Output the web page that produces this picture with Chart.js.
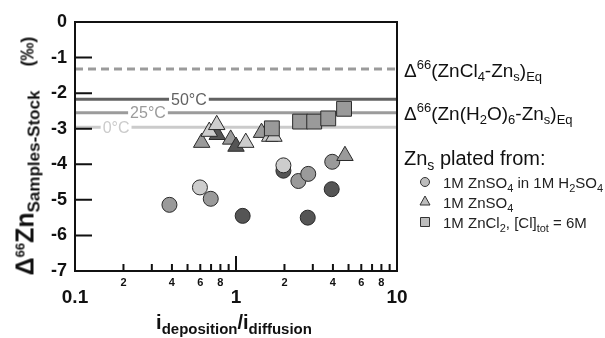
<!DOCTYPE html>
<html>
<head>
<meta charset="utf-8">
<script src="https://cdn.jsdelivr.net/npm/chart.js"></script>
<style>
  body { margin: 0; background: #fff; }
  #wrap { position: relative; width: 605px; height: 338px; font-family: "Liberation Sans", Arial, sans-serif; color: #111; }
  .lbl { position: absolute; white-space: nowrap; line-height: 1; }
  .lbl sub, .lbl sup { line-height: 0; }
  #ytitle { left: 25px; top: 156px; transform: translate(-50%, -50%) rotate(-90deg); font-weight: bold; font-size: 25px; }
  #xtitle { left: 234px; top: 322px; transform: translate(-50%, -50%); font-weight: bold; font-size: 20px; }
  .eq { left: 404px; font-size: 19px; transform: translateY(-50%); }
  .leg { left: 443px; font-size: 15px; transform: translateY(-50%); color: #222; }
</style>
</head>
<body>
<div id="wrap">
  <canvas id="myChart" width="605" height="338"></canvas>
  <div class="lbl" id="ytitle">&Delta;<sup style="font-size:13px">66</sup>Zn<sub style="font-size:17px">Samples-Stock</sub><span style="font-size:18px;margin-left:24px">(&permil;)</span></div>
  <div class="lbl" id="xtitle">i<sub style="font-size:15px">deposition</sub>/i<sub style="font-size:15px">diffusion</sub></div>
  <div class="lbl eq" style="top:70px">&Delta;<sup style="font-size:13px">66</sup>(ZnCl<sub style="font-size:13px">4</sub>-Zn<sub style="font-size:13px">s</sub>)<sub style="font-size:13px">Eq</sub></div>
  <div class="lbl eq" style="top:113px">&Delta;<sup style="font-size:13px">66</sup>(Zn(H<sub style="font-size:13px">2</sub>O)<sub style="font-size:13px">6</sub>-Zn<sub style="font-size:13px">s</sub>)<sub style="font-size:13px">Eq</sub></div>
  <div class="lbl eq" style="top:158px;font-size:20px">Zn<sub style="font-size:14px">s</sub> plated from:</div>
  <div class="lbl leg" style="top:182px">1M ZnSO<sub style="font-size:11px">4</sub> in 1M H<sub style="font-size:11px">2</sub>SO<sub style="font-size:11px">4</sub></div>
  <div class="lbl leg" style="top:202px">1M ZnSO<sub style="font-size:11px">4</sub></div>
  <div class="lbl leg" style="top:222px">1M ZnCl<sub style="font-size:11px">2</sub>, [Cl]<sub style="font-size:11px">tot</sub> = 6M</div>
</div>

<script>
// plating temperature sets the grey shade of each sample
var circleX = [0.386, 0.597, 0.697, 1.10, 1.97, 1.97, 2.44, 2.81, 2.79, 3.96, 3.93];
var circleY = [-5.14, -4.65, -4.97, -5.45, -4.18, -4.03, -4.47, -4.27, -5.50, -3.93, -4.70];
var circleT = [25, 0, 25, 50, 50, 0, 25, 25, 50, 25, 50];

var triX = [0.612, 0.765, 0.682, 0.759, 0.927, 1.00, 1.15, 1.44, 1.62, 1.72, 4.75];
var triY = [-3.39, -3.17, -3.08, -2.89, -3.30, -3.50, -3.39, -3.11, -3.22, -3.22, -3.76];
var triT = [25, 50, 0, 0, 25, 50, 0, 25, 0, 0, 25];

var sqX = [1.67, 2.50, 3.06, 3.74, 4.69];
var sqY = [-2.99, -2.80, -2.80, -2.71, -2.44];
var sqT = [25, 25, 25, 25, 25];

// equilibrium reference lines
var eqNames = ['ZnCl4', '50°C', '25°C', '0°C'];
var eqY = [-1.32, -2.17, -2.55, -2.96];

var xMajorTicks = [0.1, 1, 10];
var xMajorLabels = ['0.1', '1', '10'];
var xMinorTicks = [0.2, 0.3, 0.4, 0.5, 0.6, 0.7, 0.8, 0.9, 2, 3, 4, 5, 6, 7, 8, 9];
var xMinorLabelled = [0.2, 0.4, 0.6, 0.8, 2, 4, 6, 8];
var xMinorLabels = ['2', '4', '6', '8', '2', '4', '6', '8'];
var yTicks = [-1, -2, -3, -4, -5, -6];

var shade = { 0: '#cdcdcd', 25: '#9a9a9a', 50: '#555555' };
var lineColor = ['#9b9b9b', '#626262', '#9b9b9b', '#cbcbcb'];

function pts(xs, ys) {
  return xs.map(function (x, i) { return { x: x, y: ys[i] }; });
}

var datasets = [];
eqY.forEach(function (v, i) {
  datasets.push({
    type: 'line',
    label: eqNames[i],
    data: [{ x: 0.1, y: v }, { x: 10, y: v }],
    borderColor: lineColor[i],
    borderWidth: 3,
    borderDash: i == 0 ? [8, 5] : [],
    pointRadius: 0,
    order: 10 + i
  });
});
datasets.push({
  label: 'circle', data: pts(circleX, circleY), pointStyle: 'circle', pointRadius: 7.5,
  backgroundColor: circleT.map(function (t) { return shade[t]; }), borderColor: '#2a2a2a', borderWidth: 1, order: 3
});
datasets.push({
  label: 'triangle', data: pts(triX, triY), pointStyle: 'triangle', pointRadius: 9.5,
  backgroundColor: triT.map(function (t) { return shade[t]; }), borderColor: '#2a2a2a', borderWidth: 1, order: 2
});
datasets.push({
  label: 'square', data: pts(sqX, sqY), pointStyle: 'rect', pointRadius: 10.5,
  backgroundColor: sqT.map(function (t) { return shade[t]; }), borderColor: '#2a2a2a', borderWidth: 1, order: 1
});

var tempLabels = [
  { line: 1, text: '50°C', x: 0.51 },
  { line: 2, text: '25°C', x: 0.284 },
  { line: 3, text: '0°C', x: 0.18 }
];

var decor = {
  id: 'decor',
  afterDatasetsDraw: function (chart) {
    var ctx = chart.ctx, xs = chart.scales.x, ys = chart.scales.y;
    ctx.save();
    ctx.font = '16px "Liberation Sans", Arial, sans-serif';
    ctx.textAlign = 'center';
    ctx.textBaseline = 'middle';
    tempLabels.forEach(function (l) {
      var px = xs.getPixelForValue(l.x), py = ys.getPixelForValue(eqY[l.line]);
      var w = ctx.measureText(l.text).width;
      ctx.fillStyle = '#fff';
      ctx.fillRect(px - w / 2 - 2, py - 2.5, w + 4, 5);
      ctx.fillStyle = lineColor[l.line];
      ctx.fillText(l.text, px, py + 1);
    });
    ctx.restore();
  },
  afterDraw: function (chart) {
    var ctx = chart.ctx, a = chart.chartArea, xs = chart.scales.x, ys = chart.scales.y;
    ctx.save();
    ctx.strokeStyle = '#111';
    ctx.lineWidth = 2;
    ctx.strokeRect(a.left, a.top, a.right - a.left, a.bottom - a.top);
    ctx.beginPath();
    yTicks.forEach(function (v) {
      var py = ys.getPixelForValue(v);
      ctx.moveTo(a.left, py); ctx.lineTo(a.left + 17, py);
    });
    xMinorTicks.forEach(function (v) {
      var px = xs.getPixelForValue(v);
      ctx.moveTo(px, a.bottom); ctx.lineTo(px, a.bottom - 7);
    });
    var p1 = xs.getPixelForValue(1);
    ctx.moveTo(p1, a.bottom); ctx.lineTo(p1, a.bottom - 15);
    ctx.stroke();

    ctx.fillStyle = '#111';
    ctx.textAlign = 'center';
    ctx.textBaseline = 'middle';
    ctx.font = 'bold 11px "Liberation Sans", Arial, sans-serif';
    xMinorLabelled.forEach(function (v, i) {
      ctx.fillText(xMinorLabels[i], xs.getPixelForValue(v), a.bottom + 12);
    });
    ctx.font = 'bold 19px "Liberation Sans", Arial, sans-serif';
    xMajorTicks.forEach(function (v, i) {
      ctx.fillText(xMajorLabels[i], xs.getPixelForValue(v), a.bottom + 27);
    });

    // legend symbols
    ctx.lineWidth = 1;
    ctx.strokeStyle = '#333';
    ctx.fillStyle = '#bdbdbd';
    var lx = 425;
    ctx.beginPath(); ctx.arc(lx, 182, 4.5, 0, Math.PI * 2); ctx.fill(); ctx.stroke();
    ctx.beginPath(); ctx.moveTo(lx, 196); ctx.lineTo(lx + 5, 205); ctx.lineTo(lx - 5, 205); ctx.closePath(); ctx.fill(); ctx.stroke();
    ctx.beginPath(); ctx.rect(lx - 4.5, 217.5, 9, 9); ctx.fill(); ctx.stroke();
    ctx.restore();
  }
};

new Chart(document.getElementById('myChart'), {
  type: 'scatter',
  data: { datasets: datasets },
  options: {
    responsive: false,
    animation: false,
    devicePixelRatio: 1,
    layout: { padding: { top: 22, right: 208, left: 0, bottom: 0 } },
    plugins: { legend: { display: false }, tooltip: { enabled: false } },
    scales: {
      x: {
        type: 'logarithmic', min: 0.1, max: 10,
        ticks: { display: false },
        grid: { display: false },
        border: { display: false },
        afterFit: function (s) { s.height = 67; }
      },
      y: {
        min: -7, max: 0,
        ticks: { stepSize: 1, padding: 8, color: '#111', font: { family: '"Liberation Sans", Arial, sans-serif', size: 18, weight: 'bold' } },
        grid: { display: false, drawTicks: false },
        border: { display: false },
        afterFit: function (s) { s.width = 75; }
      }
    }
  },
  plugins: [decor]
});
</script>
</body>
</html>
